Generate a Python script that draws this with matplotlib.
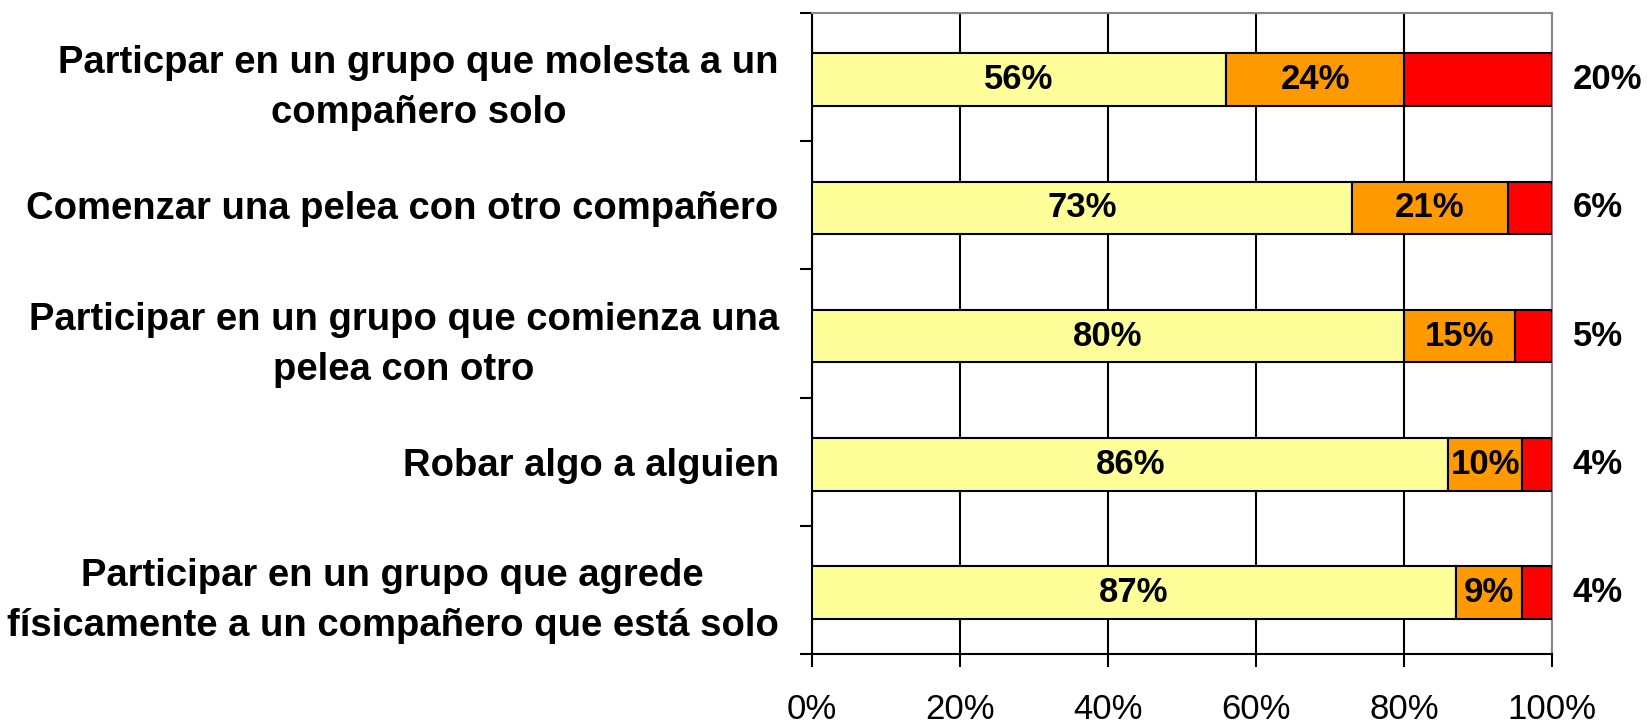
import matplotlib.pyplot as plt
import numpy as np

plt.rcParams['font.family'] = ['Liberation Sans', 'DejaVu Sans']

# data
categories = [
    "Particpar en un grupo que molesta a un\ncompañero solo",
    "Comenzar una pelea con otro compañero",
    "Participar en un grupo que comienza una\npelea con otro",
    "Robar algo a alguien",
    "Participar en un grupo que agrede\nfísicamente a un compañero que está solo",
]
nunca = [56, 73, 80, 86, 87]
alguna_vez = [24, 21, 15, 10, 9]
muchas_veces = [20, 6, 5, 4, 4]
xticks = [0, 20, 40, 60, 80, 100]

colors = ['#FFFF99', '#FF9900', '#FF0000']

fig = plt.figure(figsize=(16.48, 7.28), dpi=100)
ax = fig.add_axes([0.4927, 0.1016, 0.4490, 0.8805])

y = np.arange(len(categories))
h = 0.41
left = np.zeros(len(categories))
series = [nunca, alguna_vez, muchas_veces]
for vals, c in zip(series, colors):
    ax.barh(y + 0.02, vals, left=left, height=h, color=c, edgecolor='black', linewidth=1.5, zorder=3)
    left += np.array(vals)

# labels inside yellow and orange, outside for red
for i in y:
    ax.text(nunca[i] / 2, i + 0.02, f"{nunca[i]}%", ha='center', va='center',
            fontsize=25, fontweight='bold', zorder=4)
    ax.text(nunca[i] + alguna_vez[i] / 2, i + 0.02, f"{alguna_vez[i]}%", ha='center', va='center',
            fontsize=25, fontweight='bold', zorder=4)
    ax.text(102.8, i + 0.02, f"{muchas_veces[i]}%", ha='left', va='center',
            fontsize=25, fontweight='bold', clip_on=False)

ax.set_xlim(0, 100)
ax.set_ylim(len(categories) - 0.5, -0.5)

ax.set_xticks(xticks)
ax.set_xticklabels([f"{t}%" for t in xticks], fontsize=25)
ax.tick_params(axis='x', direction='out', length=9, width=1.5, pad=19)
ax.xaxis.grid(True, color='black', linewidth=1.5, zorder=0)

ax.set_yticks(y)
ax.set_yticklabels(categories, fontsize=27.5, fontweight='bold', multialignment='center',
                   linespacing=1.5)
ax.tick_params(axis='y', which='major', length=0, pad=24)
ax.set_yticks(np.arange(-0.5, len(categories)), minor=True)
ax.tick_params(axis='y', which='minor', direction='out', length=9, width=1.5)

for s in ['left', 'bottom']:
    ax.spines[s].set_color('black')
    ax.spines[s].set_linewidth(1.5)
for s in ['right', 'top']:
    ax.spines[s].set_color('#888888')
    ax.spines[s].set_linewidth(1.5)

fig.savefig('out.png', dpi=100)
